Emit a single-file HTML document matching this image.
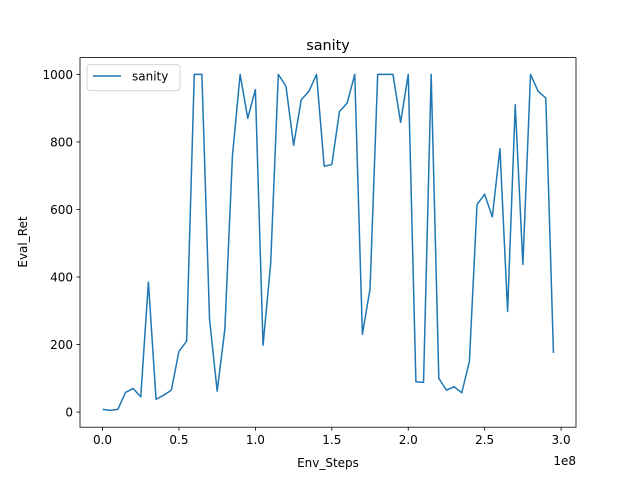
<!DOCTYPE html>
<html><head><meta charset="utf-8"><style>
body{margin:0;background:#fff;}
svg{display:block;font-family:"DejaVu Sans","Liberation Sans",sans-serif;}
</style></head><body>
<svg id="chart" width="640" height="480" viewBox="0 0 640 480" xmlns="http://www.w3.org/2000/svg">
<rect width="640" height="480" fill="#fff"/>
<text x="328" y="50" font-size="14.4" text-anchor="middle">sanity</text>
<g id="xticks"></g><g id="yticks"></g>
<polyline id="line" fill="none" stroke="#1f77b4" stroke-width="1.5" stroke-linejoin="round"/>
<rect x="80" y="57.6" width="496" height="369.6" fill="none" stroke="#000" stroke-width="0.8"/>
<text x="328" y="467" font-size="12" text-anchor="middle">Env_Steps</text>
<text x="576" y="465" font-size="12" text-anchor="end">1e8</text>
<text x="0" y="0" font-size="12" text-anchor="middle" transform="translate(27,242) rotate(-90)">Eval_Ret</text>
<g>
<rect x="87" y="64.6" width="93" height="26" rx="3" fill="#fff" stroke="#ccc" stroke-width="1" opacity="0.8"/>
<line x1="93" y1="76" x2="121" y2="76" stroke="#1f77b4" stroke-width="1.5"/>
<text x="132" y="80.5" font-size="12">sanity</text>
</g>
</svg>
<script>
const steps=[0,5,10,15,20,25,30,35,40,45,50,55,60,65,70,75,80,85,90,95,100,105,110,115,120,125,130,135,140,145,150,155,160,165,170,175,180,185,190,195,200,205,210,215,220,225,230,235,240,245,250,255,260,265,270,275,280,285,290,295];
const values=[8,5,8,58,70,45,385,38,50,65,180,210,1000,1000,275,62,245,760,1000,870,955,198,440,1000,965,790,925,950,1000,728,733,890,915,1000,230,365,1000,1000,1000,858,1000,90,88,1000,100,65,75,57,150,615,645,578,780,298,910,437,1000,950,930,175];
const xTickLabels=["0.0","0.5","1.0","1.5","2.0","2.5","3.0"];
const xTickValues=[0,50,100,150,200,250,300];
const yTickValues=[0,200,400,600,800,1000];
const NS="http://www.w3.org/2000/svg";
const L=80,R=576,T=57.6,B=427.2;
const xmin=Math.min(...steps),xmax=Math.max(...steps),xm=(xmax-xmin)*0.05;
const ymin=Math.min(...values),ymax=Math.max(...values),ym=(ymax-ymin)*0.05;
const xs=v=>L+(v-(xmin-xm))/((xmax+xm)-(xmin-xm))*(R-L);
const ys=v=>B-(v-(ymin-ym))/((ymax+ym)-(ymin-ym))*(B-T);
document.getElementById('line').setAttribute('points',steps.map((s,i)=>xs(s).toFixed(2)+','+ys(values[i]).toFixed(2)).join(' '));
const xg=document.getElementById('xticks');
xTickValues.forEach((v,i)=>{
 const x=xs(v);
 const l=document.createElementNS(NS,'line');
 
 
 l.setAttribute('x1',x);l.setAttribute('x2',x);l.setAttribute('y1',B);l.setAttribute('y2',B+3.5);l.setAttribute('stroke','#000');l.setAttribute('stroke-width','0.8');
 xg.appendChild(l);
 const t=document.createElementNS(NS,'text');
 
 
 t.setAttribute('x',x);t.setAttribute('y',B+17);t.setAttribute('font-size','12');t.setAttribute('text-anchor','middle');
 t.textContent=xTickLabels[i];xg.appendChild(t);
});
const yg=document.getElementById('yticks');
yTickValues.forEach(v=>{
 const y=ys(v);
 const l=document.createElementNS(NS,'line');
 
 
 l.setAttribute('x1',L-3.5);l.setAttribute('x2',L);l.setAttribute('y1',y);l.setAttribute('y2',y);l.setAttribute('stroke','#000');l.setAttribute('stroke-width','0.8');
 yg.appendChild(l);
 const t=document.createElementNS(NS,'text');
 
 
 t.setAttribute('x',L-7);t.setAttribute('y',y+4.5);t.setAttribute('font-size','12');t.setAttribute('text-anchor','end');
 t.textContent=String(v);yg.appendChild(t);
});
</script>
</body></html>
